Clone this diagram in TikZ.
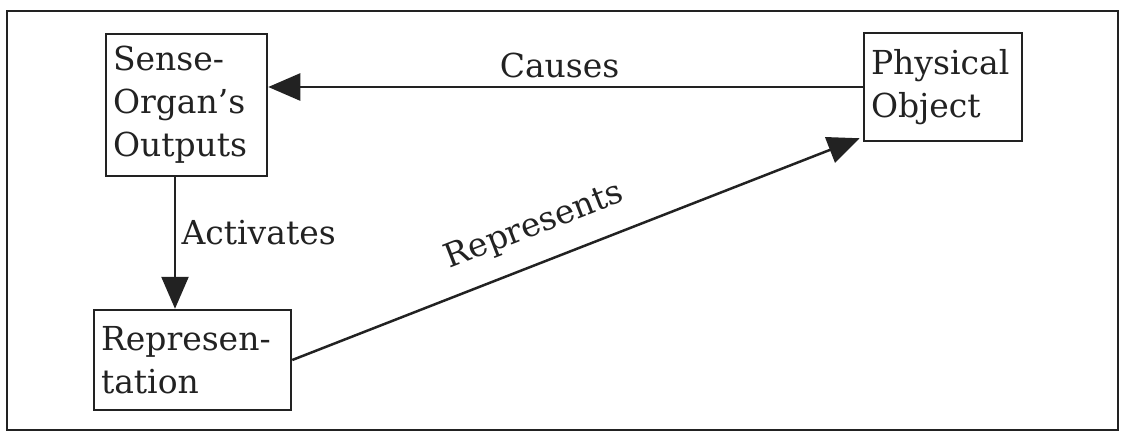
\documentclass[tikz,border=0pt]{standalone}
\usepackage{fontspec}
\setmainfont{DejaVu Serif}
\usetikzlibrary{arrows.meta}
\definecolor{ink}{HTML}{222222}
\begin{document}
\begin{tikzpicture}[x=1pt,y=-1pt,
  every node/.style={text=ink},
  box/.style={draw=ink, line width=2.5pt, align=left, inner xsep=7pt, inner ysep=0pt,
    font=\fontsize{33}{43}\selectfont},
  lbl/.style={font=\fontsize{33}{43}\selectfont},
  arr/.style={draw=ink, line width=2.5pt, -{Triangle[length=32pt,width=27pt]}}]
\useasboundingbox (0,0) rectangle (1122,434);
\draw[ink, line width=2.5pt] (7,11) rectangle (1118,430);
\node[box, text width=147pt, minimum height=142pt] (sense) at (186.5,105) {Sense-\\Organ’s\\Outputs};
\node[box, text width=144pt, minimum height=108pt] (phys) at (943,87) {Physical\\Object};
\node[box, text width=183pt, minimum height=100pt] (rep) at (192.5,360) {Represen-\\tation};
\draw[arr] (phys.west) -- (sense.east |- phys.west)
  node[lbl, pos=0.51, above=4pt] (causes) {Causes};
\draw[arr] ([xshift=-11.5pt]sense.south) -- ([xshift=-11.5pt]sense.south |- rep.north)
  node[lbl, pos=0.42, right=2pt] (activates) {Activates};
\draw[arr] (rep.east) -- ([xshift=-3pt,yshift=4pt]phys.south west)
  node[lbl, pos=0.45, sloped, above=16pt] (represents) {Represents};
\end{tikzpicture}
\end{document}
